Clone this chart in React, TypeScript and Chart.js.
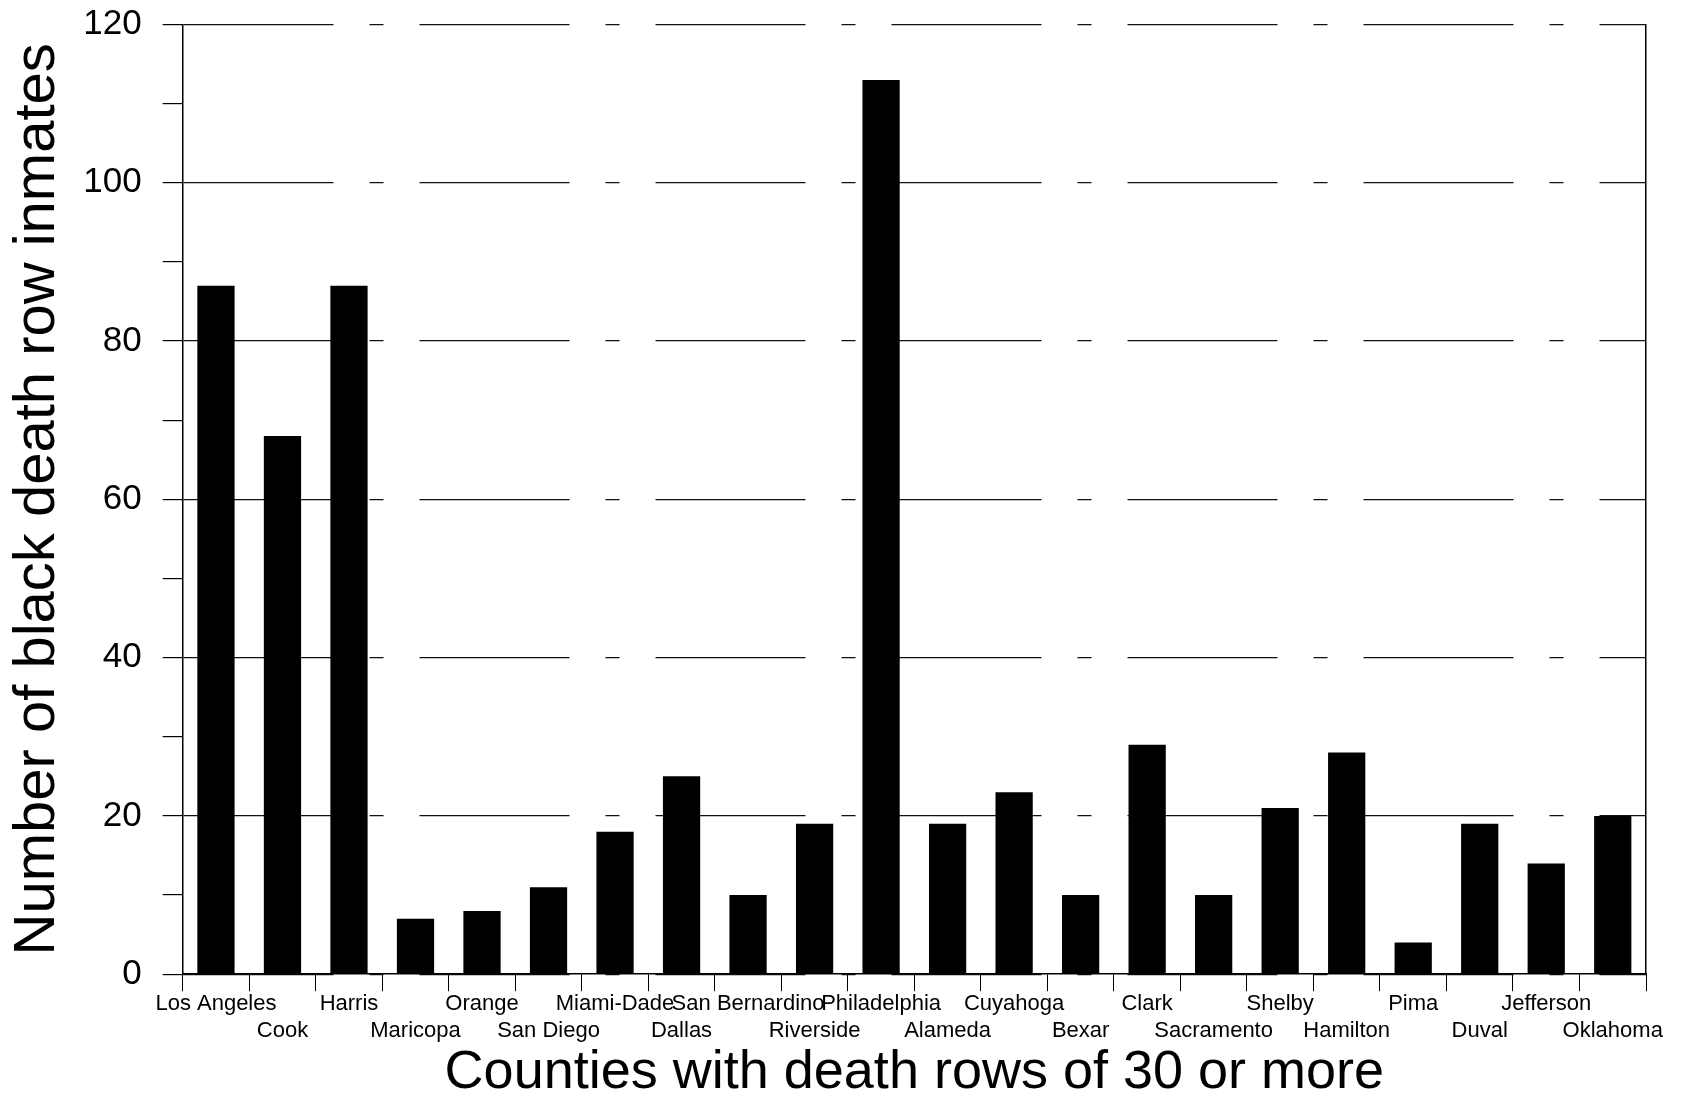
import React, { useEffect, useRef } from "react";
import { Chart, registerables } from "chart.js";

Chart.register(...registerables);

const counties = [
  "Los Angeles", "Cook", "Harris", "Maricopa", "Orange", "San Diego",
  "Miami-Dade", "Dallas", "San Bernardino", "Riverside", "Philadelphia",
  "Alameda", "Cuyahoga", "Bexar", "Clark", "Sacramento", "Shelby",
  "Hamilton", "Pima", "Duval", "Jefferson", "Oklahoma",
];

const blackInmates = [
  87, 68, 87, 7, 8, 11, 18, 25, 10, 19, 113, 19, 23, 10, 29, 10, 21, 28, 4, 19, 14, 20,
];

const yTickValues = [0, 20, 40, 60, 80, 100, 120];

const xAxisTitle = "Counties with death rows of 30 or more";
const yAxisTitle = "Number of black death row inmates";

export default function App() {
  const ref = useRef<HTMLCanvasElement | null>(null);

  useEffect(() => {
    document.body.style.margin = "0";
    const canvas = ref.current;
    if (!canvas) return;
    const chart = new Chart(canvas, {
      type: "bar",
      data: {
        labels: counties,
        datasets: [
          {
            data: blackInmates,
            backgroundColor: "#000",
            borderWidth: 0,
            barPercentage: 0.56,
            categoryPercentage: 1,
          },
        ],
      },
      options: {
        animation: false,
        responsive: false,
        maintainAspectRatio: false,
        layout: { padding: { left: 0, right: 36, top: 0, bottom: -2 } },
        plugins: { legend: { display: false }, tooltip: { enabled: false } },
        scales: {
          x: {
            grid: {
              display: true,
              drawOnChartArea: false,
              drawTicks: true,
              tickLength: 17,
              color: "#000",
              tickColor: "#000",
              lineWidth: 1,
            },
            border: { display: true, color: "#000", width: 1.5 },
            ticks: {
              autoSkip: false,
              maxRotation: 0,
              minRotation: 0,
              padding: 0,
              color: "#000",
              font: { family: "'Liberation Sans', Arial, sans-serif", size: 22, lineHeight: 1.2 },
              callback: (_v: any, i: number) => (i % 2 === 0 ? [counties[i], ""] : ["", counties[i]]),
            },
            title: {
              display: true,
              text: xAxisTitle,
              color: "#000",
              font: { family: "'Liberation Sans', Arial, sans-serif", size: 54, lineHeight: 1.0 },
              padding: { top: 2, bottom: 0 },
            },
          },
          y: {
            min: 0,
            max: 120,
            ticks: {
              stepSize: 10,
              padding: 21,
              color: "#000",
              font: { family: "'Liberation Sans', Arial, sans-serif", size: 35, lineHeight: 0.2 },
              callback: (v: any) => (yTickValues.includes(Number(v)) ? String(v) : ""),
            },
            grid: {
              drawOnChartArea: true,
              drawTicks: true,
              tickLength: 20,
              lineWidth: 1.2,
              color: (ctx: any) =>
                ctx.tick && yTickValues.includes(ctx.tick.value) ? "#111" : "rgba(0,0,0,0)",
              tickColor: "#000",
              tickBorderDash: [],
            },
            border: { display: true, color: "#000", width: 1.5, dash: [150, 36, 14, 36] },
            title: {
              display: true,
              text: yAxisTitle,
              color: "#000",
              font: { family: "'Liberation Sans', Arial, sans-serif", size: 58, lineHeight: 0.85 },
              padding: { top: 13, bottom: 0 },
            },
          },
          y2: {
            position: "right",
            min: 0,
            max: 120,
            ticks: { display: false },
            grid: { drawOnChartArea: false, drawTicks: false },
            border: { display: true, color: "#000", width: 1.5 },
          },
        },
      },
    });
    return () => chart.destroy();
  }, []);

  return (
    <div style={{ width: 1682, height: 1098, background: "#fff" }}>
      <canvas ref={ref} width={1682} height={1098} style={{ display: "block" }} />
    </div>
  );
}
